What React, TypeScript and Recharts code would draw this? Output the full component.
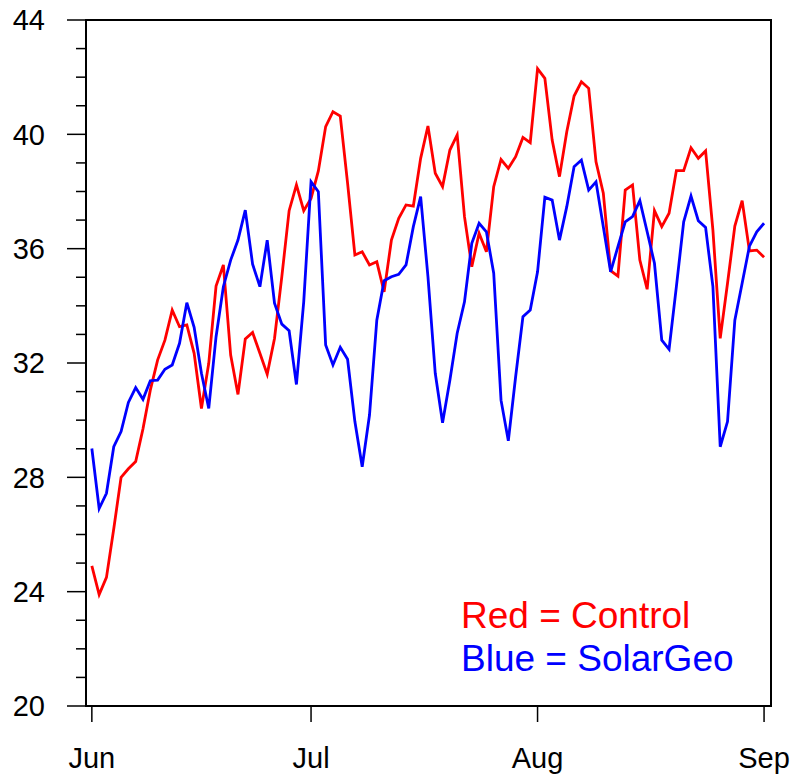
import React from "react";
import {
  LineChart,
  Line,
  XAxis,
  YAxis,
  ReferenceArea,
} from "recharts";

// daily values, Jun 1 .. Sep 1
const CONTROL = [
  24.9, 23.9, 24.5, 26.2, 28.0, 28.3, 28.55, 29.7, 31.05, 32.1, 32.8, 33.85,
  33.27, 33.33, 32.34, 30.41, 31.99, 34.69, 35.43, 32.28, 30.9, 32.84, 33.07,
  32.34, 31.61, 32.86, 35.02, 37.33, 38.23, 37.33, 37.76, 38.72, 40.27, 40.79,
  40.64, 38.29, 35.78, 35.89, 35.43, 35.54, 34.49, 36.3, 37.06, 37.53, 37.49,
  39.16, 40.29, 38.64, 38.17, 39.45, 39.98, 37.12, 35.37, 36.54, 35.89, 38.17,
  39.12, 38.81, 39.22, 39.89, 39.71, 42.3, 41.96, 39.8, 38.52, 40.09, 41.34,
  41.84, 41.61, 39.04, 37.94, 35.23, 35.04, 38.05, 38.23, 35.6, 34.58, 37.33,
  36.77, 37.24, 38.73, 38.73, 39.53, 39.16, 39.42, 36.65, 32.86, 34.79, 36.79,
  37.68, 35.92, 35.95, 35.7,
];

const SOLARGEO = [
  29.01, 26.91, 27.44, 29.07, 29.6, 30.62, 31.14, 30.73, 31.38, 31.4, 31.78,
  31.93, 32.69, 34.11, 33.25, 31.64, 30.41, 32.92, 34.67, 35.6, 36.3, 37.35,
  35.46, 34.67, 36.3, 34.09, 33.36, 33.13, 31.25, 34.15, 38.34, 37.99, 32.63,
  31.93, 32.55, 32.13, 29.95, 28.37, 30.18, 33.5, 34.88, 35.02, 35.1, 35.43,
  36.77, 37.82, 35.02, 31.64, 29.91, 31.4, 33.04, 34.14, 36.19, 36.89, 36.59,
  35.14, 30.7, 29.28, 31.52, 33.62, 33.85, 35.19, 37.8, 37.7, 36.3, 37.47,
  38.87, 39.1, 38.05, 38.34, 36.77, 35.19, 36.07, 36.94, 37.12, 37.68, 36.59,
  35.49, 32.8, 32.48, 34.67, 36.94, 37.84, 36.98, 36.74, 34.67, 29.07, 29.95,
  33.5, 34.79, 36.09, 36.59, 36.89,
];

const MONTH_TICKS = [0, 30, 61, 92];
const MONTH_LABELS = ["Jun", "Jul", "Aug", "Sep"];
const Y_TICKS = [
  20, 21, 22, 23, 24, 25, 26, 27, 28, 29, 30, 31, 32, 33, 34, 35, 36, 37, 38,
  39, 40, 41, 42, 43, 44,
];

const data = CONTROL.map((v, i) => ({ day: i, control: v, solar: SOLARGEO[i] }));

const FONT = "'Liberation Sans', Arial, Helvetica, sans-serif";

const YTick = (props: any) => {
  const { x, y, payload } = props;
  const major = payload.value % 4 === 0;
  return (
    <g>
      <line
        x1={x}
        x2={x - (major ? 19 : 10)}
        y1={y}
        y2={y}
        stroke="#000"
        strokeWidth={1.5}
      />
      {major && (
        <text
          x={x - 41}
          y={y}
          dy="0.36em"
          textAnchor="end"
          fontSize={29}
          fontFamily={FONT}
          fill="#000"
        >
          {payload.value}
        </text>
      )}
    </g>
  );
};

export default function App() {
  return (
    <div style={{ position: "absolute", left: 0, top: 0, width: 794, height: 774, background: "#fff" }}>
      <LineChart
        width={794}
        height={774}
        data={data}
        margin={{ top: 20, right: 23, bottom: 0, left: 0 }}
      >
        <XAxis
          type="number"
          dataKey="day"
          domain={[-0.8, 92.95]}
          allowDataOverflow
          ticks={MONTH_TICKS}
          interval={0}
          tickFormatter={(v: number) => MONTH_LABELS[MONTH_TICKS.indexOf(v)]}
          height={68}
          tickSize={16}
          tickMargin={25}
          axisLine={{ stroke: "#000", strokeWidth: 2 }}
          tickLine={{ stroke: "#000", strokeWidth: 1.5 }}
          tick={{ fill: "#000", fontSize: 29, fontFamily: FONT }}
        />
        <YAxis
          type="number"
          domain={[20, 44]}
          ticks={Y_TICKS}
          interval={0}
          width={86}
          tickSize={0}
          tickMargin={0}
          tickLine={false}
          axisLine={{ stroke: "#000", strokeWidth: 2 }}
          tick={(p: any) => <YTick {...p} />}
        />
        <ReferenceArea
          x1={-0.8}
          x2={92.95}
          y1={20}
          y2={44}
          fill="none"
          stroke="#000"
          strokeWidth={2}
          ifOverflow="visible"
        />
        <Line
          type="linear"
          dataKey="control"
          stroke="#ff0000"
          strokeWidth={2.8}
          dot={false}
          isAnimationActive={false}
        />
        <Line
          type="linear"
          dataKey="solar"
          stroke="#0000ff"
          strokeWidth={2.8}
          dot={false}
          isAnimationActive={false}
        />
      </LineChart>
      <svg
        width={794}
        height={774}
        style={{ position: "absolute", left: 0, top: 0, pointerEvents: "none" }}
      >
        <text x={461} y={628} fontSize={37} fontFamily={FONT} fill="#ff0000">
          Red = Control
        </text>
        <text x={461} y={671} fontSize={37} fontFamily={FONT} fill="#0000ff">
          Blue = SolarGeo
        </text>
      </svg>
    </div>
  );
}
